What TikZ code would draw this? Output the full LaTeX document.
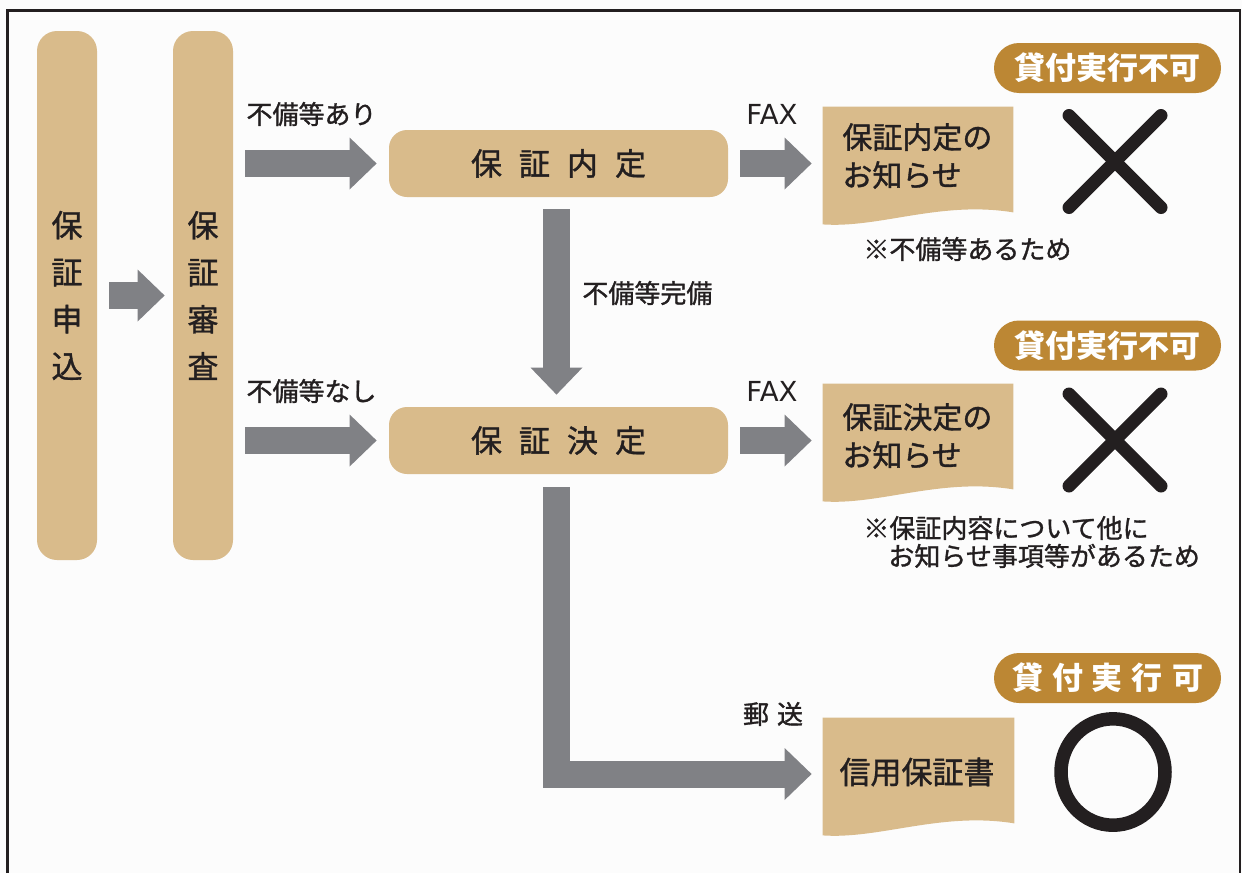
\documentclass[tikz,border=0pt]{standalone}
\usepackage{fontspec}
\setmainfont{Noto Sans CJK JP}[UprightFeatures={FakeBold=1.2}]
\newfontfamily\plainfont{Noto Sans CJK JP}
\newfontfamily\faxfont{DejaVu Sans}
\usetikzlibrary{arrows.meta,calc}
\definecolor{tanbox}{RGB}{217,187,139}
\definecolor{badgecol}{RGB}{188,135,52}
\definecolor{arrowgray}{RGB}{128,129,133}
\definecolor{ink}{RGB}{35,31,32}
\definecolor{bgcol}{RGB}{252,252,252}
\begin{document}
\begin{tikzpicture}[x=0.5pt,y=-0.5pt,
  colbox/.style={fill=tanbox, rounded corners=10pt, minimum width=30pt, minimum height=264.5pt, inner sep=0pt, align=center, text=ink, font=\fontsize{15.5}{23.5}\selectfont},
  procbox/.style={fill=tanbox, rounded corners=9pt, minimum width=169.5pt, minimum height=33.5pt, inner sep=0pt, text=ink, font=\fontsize{15.5}{18}\selectfont},
  docarea/.style={minimum width=95pt, minimum height=58.5pt, inner sep=0pt},
  docfill/.style={fill=tanbox},
  doctext/.style={anchor=west, align=left, inner sep=0pt, text=ink, font=\fontsize{15}{19}\selectfont},
  badge/.style={fill=badgecol, rounded corners=12.5pt, minimum width=113.5pt, minimum height=25pt, inner sep=0pt, text=white, font=\plainfont\bfseries\fontsize{15.5}{18}\selectfont},
  lbl/.style={inner sep=0pt, text=ink, font=\fontsize{13}{16}\selectfont},
  faxlbl/.style={inner sep=0pt, text=ink, font=\faxfont\fontsize{13.8}{16}\selectfont},
  notelbl/.style={anchor=west, align=left, inner sep=0pt, text=ink, font=\fontsize{13}{14}\selectfont},
  blk/.style={draw=arrowgray, line width=13.5pt, line join=miter, -{Triangle[width=26pt,length=13.5pt,line width=0pt]}},
  ngmark/.style={draw=ink, line width=6.5pt, line cap=round},
  okmark/.style={draw=ink, line width=6.75pt}
]
\useasboundingbox (0,0) rectangle (1242,873);
\fill[bgcol] (0,0) rectangle (1242,873);
\draw[ink, line width=1.25pt] (7.5,873) -- (7.5,10.5) -- (1240,10.5) -- (1240,873);

% columns
\node[colbox] (moushikomi) at (67,295.5) {保\\証\\申\\込};
\node[colbox] (shinsa) at (203,295.5) {保\\証\\審\\査};

% process boxes
\node[procbox] (naitei) at (558.5,163.5) {保\hspace{8.5pt}証\hspace{8.5pt}内\hspace{8.5pt}定};
\node[procbox] (kettei) at (558.5,440.5) {保\hspace{8.5pt}証\hspace{8.5pt}決\hspace{8.5pt}定};

% documents
\node[docarea] (doc1) at (918,165.5) {};
\node[docarea] (doc2) at (918,442.5) {};
\node[docarea, minimum width=95.5pt] (doc3) at (918.5,776.5) {};
\foreach \d in {doc1,doc2,doc3}{
  \fill[docfill] (\d.north west) -- (\d.north east) -- ($(\d.south east)+(0,-12)$)
    .. controls ($(\d.south east)+(-73,-24)$) and ($(\d.south west)+(57,4)$) .. (\d.south west) -- cycle;
}
\node[doctext] (doc1text) at (842,156) {保証内定の\\お知らせ};
\node[doctext] (doc2text) at (842,436) {保証決定の\\お知らせ};
\node[inner sep=0pt, text=ink, font=\fontsize{15.5}{18}\selectfont] (doc3text) at (917,772) {信用保証書};

% badges
\node[badge] (badge1) at (1107.5,68) {貸付実行不可};
\node[badge] (badge2) at (1107.5,345.5) {貸付実行不可};
\node[badge] (badge3) at (1107.5,678) {貸\hspace{4.5pt}付\hspace{4.5pt}実\hspace{4.5pt}行\hspace{4.5pt}可};

% marks
\draw[ngmark] (1069,115.5) -- (1161,207.5);
\draw[ngmark] (1161,115.5) -- (1069,207.5);
\draw[ngmark] (1069,394) -- (1161,486);
\draw[ngmark] (1161,394) -- (1069,486);
\draw[okmark] (1113,772) ellipse [x radius=26pt, y radius=26.6pt];

% labels
\node[lbl] (ari) at (311.5,114) {不備等あり};
\node[lbl] (nashi) at (311.5,391) {不備等なし};
\node[lbl, anchor=west] (kanbi) at (582,293) {不備等完備};
\node[faxlbl] (fax1) at (772,114) {FAX};
\node[faxlbl] (fax2) at (772,391) {FAX};
\node[lbl] (yuso) at (773,714) {郵\hspace{4pt}送};
\node[notelbl] (note1) at (863,249) {※不備等あるため};
\node[notelbl] (note2) at (863,542) {※保証内容について他に\\\hspace*{12.5pt}お知らせ事項等があるため};

% arrows
\draw[blk, shorten <=6pt, shorten >=4pt] (moushikomi.east) -- (shinsa.west);
\draw[blk, shorten <=6pt, shorten >=6pt] (shinsa.east |- naitei.west) -- (naitei.west);
\draw[blk, shorten <=6pt, shorten >=6pt] (shinsa.east |- kettei.west) -- (kettei.west);
\draw[blk, shorten <=6pt, shorten >=5.5pt] (naitei.east) -- (doc1.west |- naitei.east);
\draw[blk, shorten <=6pt, shorten >=5.5pt] (kettei.east) -- (doc2.west |- kettei.east);
\draw[blk, shorten <=6pt, shorten >=6pt] ([xshift=-1pt]naitei.south) -- ([xshift=-1pt]kettei.north);
\draw[blk, shorten <=6.5pt, shorten >=5.5pt] ([xshift=-1pt]kettei.south) |- ([yshift=1.25pt]doc3.west);
\end{tikzpicture}
\end{document}
